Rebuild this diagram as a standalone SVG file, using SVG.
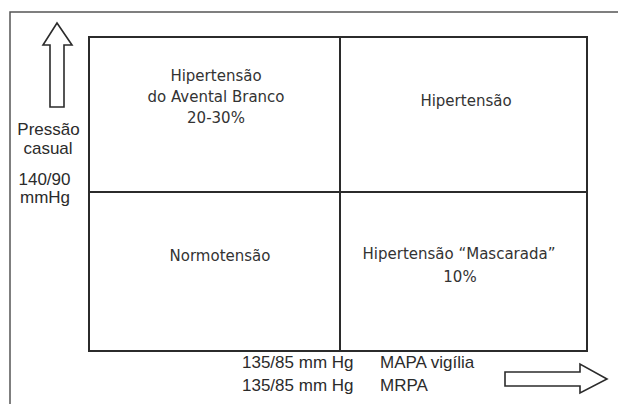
<svg xmlns="http://www.w3.org/2000/svg" width="618" height="404" viewBox="0 0 618 404">
  <style>
    .frame { fill: none; stroke: #555; stroke-width: 1.5; }
    .grid { fill: none; stroke: #2b2b2b; stroke-width: 2; }
    .arrow { fill: #fff; stroke: #2b2b2b; stroke-width: 1.6; stroke-linejoin: miter; }
    .cell { font-family: "DejaVu Sans", Verdana, sans-serif; font-size: 15px; fill: #333; text-anchor: middle; }
    .axis { font-family: "Liberation Sans", Arial, sans-serif; font-size: 17px; fill: #2b2b2b; }
    .mid { text-anchor: middle; }
  </style>
  <rect width="618" height="404" fill="#fff"/>
  <polyline class="frame" points="10,404 10,12 618,12"/>

  <g id="grid">
    <rect class="grid" x="89" y="37" width="498" height="314"/>
    <line class="grid" x1="340" y1="37" x2="340" y2="351"/>
    <line class="grid" x1="89" y1="192" x2="587" y2="192"/>
  </g>

  <g id="cell-white-coat">
    <text class="cell" x="216" y="81">Hipertensão</text>
    <text class="cell" x="216" y="102">do Avental Branco</text>
    <text class="cell" x="216" y="123">20-30%</text>
  </g>
  <g id="cell-hypertension">
    <text class="cell" x="466" y="106">Hipertensão</text>
  </g>
  <g id="cell-normotension">
    <text class="cell" x="220" y="261">Normotensão</text>
  </g>
  <g id="cell-masked">
    <text class="cell" x="459" y="259">Hipertensão “Mascarada”</text>
    <text class="cell" x="460" y="282">10%</text>
  </g>

  <g id="axes">
    <polygon class="arrow" points="57,23 72,45 64,45 64,107 50,107 50,45 43,45"/>
    <polygon class="arrow" points="505,372 580,372 580,364 607,379 580,393 580,386 505,386"/>
  </g>

  <g id="y-label">
    <text class="axis mid" x="48.5" y="135">Pressão</text>
    <text class="axis mid" x="48" y="154">casual</text>
    <text class="axis mid" x="44.5" y="185">140/90</text>
    <text class="axis mid" x="45" y="203">mmHg</text>
  </g>
  <g id="x-label">
    <text class="axis" x="242" y="368">135/85 mm Hg</text>
    <text class="axis" x="242" y="391">135/85 mm Hg</text>
    <text class="axis" x="380" y="368">MAPA vigília</text>
    <text class="axis" x="380" y="391">MRPA</text>
  </g>
</svg>
